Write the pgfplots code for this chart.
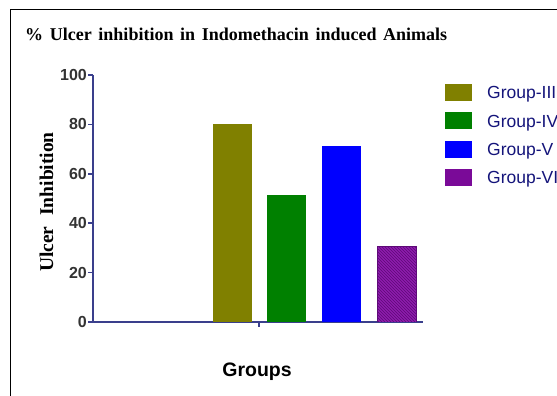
\documentclass[border=0pt]{standalone}
\usepackage{pgfplots}
\pgfplotsset{compat=1.18}
\usetikzlibrary{patterns}
\usepackage{fontspec}
\setmainfont{Liberation Serif}
\newfontfamily\arial{Liberation Sans}
\definecolor{axisblue}{HTML}{3A3F8C}
\definecolor{olivec}{HTML}{808000}
\definecolor{greenc}{HTML}{008000}
\definecolor{bluec}{HTML}{0000FF}
\definecolor{purplec}{HTML}{8E1CAE}
\definecolor{purpled}{HTML}{5E0A78}
\definecolor{legpurple}{HTML}{7A0A98}
\definecolor{legtext}{HTML}{14147A}
\pgfplotsset{myleg/.style={legend image code/.code={\fill[##1,draw=none] (0pt,-8.5pt) rectangle (27pt,8.5pt);}}}
\begin{document}
\begin{tikzpicture}[x=1pt,y=1pt]
\useasboundingbox (0,0) rectangle (557,396);
\draw[line width=1pt] (10,-10) -- (10,386) -- (600,386);
\node[anchor=base west, inner sep=0pt, font=\fontsize{18}{18}\selectfont\bfseries] at (25,355) {\spaceskip=0.37em\%~Ulcer inhibition in Indomethacin induced Animals};
\node[anchor=base, rotate=90, inner sep=0pt, font=\fontsize{19.5}{19.5}\selectfont\bfseries] at (53,194) {Ulcer\hspace{0.55em}Inhibition};
\node[anchor=base, inner sep=0pt, font=\arial\bfseries\fontsize{19.5}{19.5}\selectfont] at (257,19) {Groups};
\begin{axis}[
  at={(93pt,74pt)}, anchor=south west,
  scale only axis, width=330pt, height=247pt,
  xmin=93, xmax=423, ymin=0, ymax=100,
  axis x line*=bottom, axis y line*=left,
  axis line style={axisblue, line width=1.5pt},
  tick style={axisblue, line width=1.5pt},
  tick align=outside, major tick length=5pt,
  xtick={259}, xticklabels={},
  ytick={0,20,...,100},
  yticklabel style={font=\arial\bfseries\fontsize{16}{16}\selectfont, text=black!80, inner sep=1pt},
  /pgf/number format/assume math mode=true,
  legend style={at={(1.0667,0.9636)}, anchor=north west, draw=none, fill=none, inner sep=0pt,
    font=\arial\fontsize{17.5}{17.5}\selectfont, text=legtext,
    row sep=11.3pt, column sep=15pt,
    nodes={inner sep=0pt, text height=12.6pt, text depth=0pt}},
  legend cell align=left,
]
\addlegendimage{myleg, fill=olivec}
\addlegendimage{myleg, fill=greenc}
\addlegendimage{myleg, fill=bluec}
\addlegendimage{myleg, fill=legpurple}
\addplot[forget plot, ybar, bar shift=0pt, bar width=39, fill=olivec, draw=none] coordinates {(232,80.0)};
\addplot[forget plot, ybar, bar shift=0pt, bar width=39, fill=greenc, draw=none] coordinates {(286.5,51.3)};
\addplot[forget plot, ybar, bar shift=0pt, bar width=39, fill=bluec, draw=none] coordinates {(341.5,71.2)};
\addplot[forget plot, ybar, bar shift=0pt, bar width=39, fill=purplec, draw=purpled, line width=0.8pt] coordinates {(396.5,30.7)};
\addplot[forget plot, ybar, bar shift=0pt, bar width=39, draw=none, pattern=north west lines, pattern color=purpled] coordinates {(396.5,30.7)};
\legend{Group-III, Group-IV, Group-V, Group-VI}
\end{axis}
\end{tikzpicture}
\end{document}
